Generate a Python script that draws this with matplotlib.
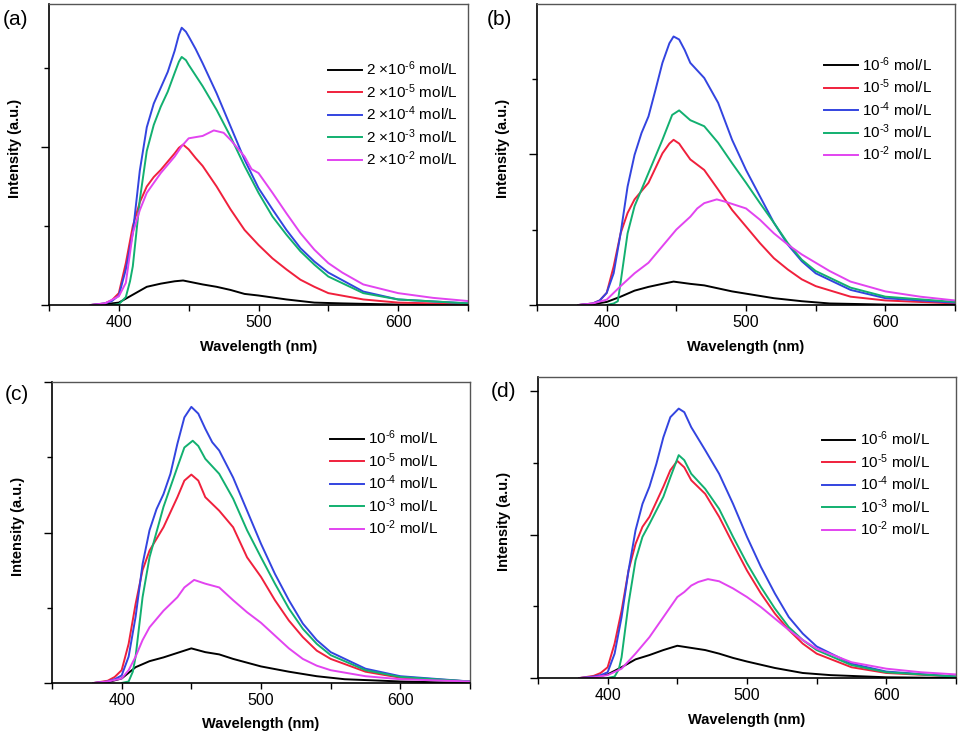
import matplotlib
matplotlib.use("Agg")
import matplotlib.pyplot as plt
from matplotlib.ticker import MultipleLocator, NullFormatter

plt.rcParams["font.family"] = ["Liberation Sans", "DejaVu Sans"]
plt.rcParams["mathtext.fontset"] = "custom"
plt.rcParams["mathtext.rm"] = "Liberation Sans"
plt.rcParams["mathtext.default"] = "regular"

COLORS = ["#000000", "#f0203c", "#3344e0", "#12b070", "#e244f0"]
EXPONENTS = ["6", "5", "4", "3", "2"]

# ---- panel (a): 2x10^n mol/L ----
a_black_x = [380, 390, 400, 410, 420, 430, 440, 446, 460, 470, 480, 490, 500, 520, 540, 560, 600, 650]
a_black_y = [0, 0.01, 0.03, 0.13, 0.23, 0.27, 0.30, 0.31, 0.26, 0.23, 0.19, 0.14, 0.12, 0.07, 0.03, 0.02, 0.005, 0]
a_red_x = [380, 390, 395, 400, 405, 410, 415, 420, 425, 430, 440, 443, 446, 450, 455, 460, 470, 480, 490, 500, 510, 520, 530, 540, 550, 575, 600, 650]
a_red_y = [0, 0.02, 0.06, 0.15, 0.53, 1.0, 1.30, 1.5, 1.62, 1.71, 1.92, 1.99, 2.03, 1.97, 1.86, 1.76, 1.50, 1.21, 0.95, 0.76, 0.59, 0.45, 0.32, 0.23, 0.15, 0.07, 0.03, 0.01]
a_blue_x = [380, 390, 395, 400, 405, 410, 415, 420, 425, 430, 435, 440, 443, 445, 448, 450, 455, 460, 470, 480, 490, 500, 510, 520, 530, 540, 550, 575, 600, 650]
a_blue_y = [0, 0.02, 0.05, 0.12, 0.45, 0.91, 1.7, 2.25, 2.55, 2.75, 2.95, 3.22, 3.42, 3.51, 3.46, 3.40, 3.24, 3.06, 2.68, 2.26, 1.84, 1.48, 1.21, 0.95, 0.72, 0.55, 0.41, 0.17, 0.07, 0.02]
a_green_x = [395, 400, 405, 408, 410, 415, 420, 425, 430, 435, 440, 443, 445, 448, 450, 460, 470, 480, 490, 500, 510, 520, 530, 540, 550, 575, 600, 650]
a_green_y = [0, 0.01, 0.1, 0.3, 0.49, 1.33, 1.95, 2.28, 2.51, 2.7, 2.94, 3.08, 3.14, 3.10, 3.04, 2.77, 2.47, 2.13, 1.76, 1.42, 1.12, 0.89, 0.68, 0.51, 0.36, 0.15, 0.07, 0.02]
a_mag_x = [380, 390, 400, 405, 410, 415, 420, 430, 440, 445, 450, 460, 468, 475, 480, 490, 495, 500, 510, 520, 530, 540, 550, 560, 575, 600, 625, 650]
a_mag_y = [0, 0.02, 0.11, 0.28, 0.91, 1.2, 1.42, 1.67, 1.88, 2.01, 2.11, 2.14, 2.21, 2.18, 2.09, 1.88, 1.72, 1.67, 1.42, 1.16, 0.91, 0.70, 0.53, 0.41, 0.26, 0.15, 0.09, 0.05]

# ---- panel (b) ----
b_black_x = [380, 390, 400, 410, 420, 430, 440, 448, 460, 470, 480, 490, 500, 520, 540, 560, 600, 650]
b_black_y = [0, 0.01, 0.04, 0.11, 0.19, 0.24, 0.28, 0.31, 0.28, 0.26, 0.22, 0.18, 0.15, 0.09, 0.05, 0.02, 0.005, 0]
b_red_x = [380, 390, 395, 400, 405, 410, 415, 420, 430, 440, 445, 448, 452, 455, 460, 470, 480, 490, 500, 510, 520, 530, 540, 550, 575, 600, 650]
b_red_y = [0, 0.02, 0.06, 0.16, 0.51, 0.95, 1.22, 1.40, 1.62, 2.01, 2.14, 2.19, 2.14, 2.06, 1.93, 1.79, 1.53, 1.26, 1.04, 0.82, 0.62, 0.47, 0.34, 0.25, 0.11, 0.06, 0.02]
b_blue_x = [380, 390, 395, 400, 405, 410, 415, 420, 425, 430, 435, 440, 445, 448, 452, 456, 460, 470, 480, 490, 500, 510, 520, 530, 540, 550, 575, 600, 650]
b_blue_y = [0, 0.02, 0.06, 0.16, 0.42, 0.95, 1.57, 1.99, 2.28, 2.50, 2.85, 3.21, 3.47, 3.56, 3.52, 3.38, 3.21, 3.01, 2.68, 2.19, 1.79, 1.44, 1.09, 0.80, 0.58, 0.42, 0.20, 0.09, 0.03]
b_green_x = [400, 405, 408, 410, 415, 420, 430, 440, 447, 452, 460, 470, 480, 490, 500, 510, 520, 530, 540, 550, 575, 600, 650]
b_green_y = [0, 0.02, 0.05, 0.3, 0.95, 1.31, 1.75, 2.19, 2.52, 2.58, 2.45, 2.37, 2.15, 1.88, 1.62, 1.35, 1.09, 0.82, 0.60, 0.45, 0.23, 0.11, 0.04]
b_mag_x = [380, 390, 400, 410, 420, 430, 440, 450, 460, 465, 470, 479, 485, 490, 500, 510, 520, 530, 540, 550, 560, 575, 600, 625, 650]
b_mag_y = [0, 0.02, 0.07, 0.25, 0.42, 0.56, 0.78, 1.0, 1.17, 1.28, 1.35, 1.40, 1.37, 1.34, 1.28, 1.13, 0.95, 0.80, 0.67, 0.56, 0.45, 0.31, 0.18, 0.11, 0.06]

# ---- panel (c) ----
c_black_x = [380, 390, 400, 410, 420, 430, 440, 450, 460, 470, 480, 490, 500, 520, 540, 560, 600, 650]
c_black_y = [0, 0.01, 0.06, 0.21, 0.29, 0.34, 0.40, 0.46, 0.41, 0.38, 0.32, 0.27, 0.22, 0.15, 0.09, 0.05, 0.02, 0]
c_red_x = [380, 390, 395, 400, 405, 410, 415, 420, 430, 440, 445, 450, 455, 460, 470, 480, 490, 500, 510, 520, 530, 540, 550, 575, 600, 650]
c_red_y = [0, 0.03, 0.08, 0.17, 0.52, 1.05, 1.50, 1.76, 2.07, 2.47, 2.69, 2.77, 2.69, 2.47, 2.29, 2.07, 1.67, 1.41, 1.10, 0.83, 0.61, 0.43, 0.32, 0.15, 0.07, 0.02]
c_blue_x = [380, 390, 395, 400, 405, 410, 415, 420, 425, 430, 435, 440, 445, 450, 455, 460, 465, 470, 480, 490, 500, 510, 520, 530, 540, 550, 575, 600, 650]
c_blue_y = [0, 0.02, 0.05, 0.10, 0.35, 0.88, 1.58, 2.03, 2.31, 2.51, 2.78, 3.18, 3.53, 3.67, 3.58, 3.38, 3.20, 3.09, 2.73, 2.29, 1.85, 1.45, 1.10, 0.79, 0.57, 0.41, 0.19, 0.09, 0.02]
c_green_x = [400, 405, 408, 410, 415, 420, 430, 440, 445, 451, 455, 460, 470, 480, 490, 500, 510, 520, 530, 540, 550, 575, 600, 650]
c_green_y = [0, 0.02, 0.15, 0.35, 1.14, 1.67, 2.34, 2.87, 3.13, 3.22, 3.15, 2.98, 2.78, 2.45, 2.03, 1.67, 1.32, 0.99, 0.72, 0.52, 0.37, 0.17, 0.08, 0.02]
c_mag_x = [380, 390, 400, 405, 410, 415, 420, 430, 440, 445, 452, 460, 470, 480, 490, 500, 510, 520, 530, 540, 550, 575, 600, 650]
c_mag_y = [0, 0.02, 0.06, 0.17, 0.35, 0.57, 0.74, 0.96, 1.14, 1.27, 1.37, 1.32, 1.27, 1.10, 0.94, 0.80, 0.63, 0.46, 0.32, 0.23, 0.17, 0.09, 0.05, 0.02]

# ---- panel (d) ----
d_black_x = [380, 390, 400, 410, 420, 430, 440, 450, 460, 470, 480, 490, 500, 520, 540, 560, 600, 650]
d_black_y = [0, 0.01, 0.05, 0.15, 0.26, 0.32, 0.39, 0.45, 0.42, 0.39, 0.34, 0.28, 0.23, 0.14, 0.07, 0.04, 0.01, 0]
d_red_x = [380, 390, 395, 400, 405, 410, 415, 420, 425, 430, 440, 445, 450, 455, 460, 470, 480, 490, 500, 510, 520, 530, 540, 550, 575, 600, 650]
d_red_y = [0, 0.03, 0.07, 0.15, 0.48, 0.94, 1.50, 1.87, 2.11, 2.25, 2.67, 2.90, 3.03, 2.94, 2.76, 2.57, 2.25, 1.87, 1.50, 1.18, 0.90, 0.67, 0.48, 0.34, 0.15, 0.07, 0.02]
d_blue_x = [380, 390, 395, 400, 405, 410, 415, 420, 425, 430, 435, 440, 445, 451, 455, 460, 470, 480, 490, 500, 510, 520, 530, 540, 550, 575, 600, 650]
d_blue_y = [0, 0.02, 0.04, 0.08, 0.34, 0.85, 1.50, 2.06, 2.43, 2.67, 2.99, 3.36, 3.64, 3.76, 3.71, 3.50, 3.18, 2.85, 2.43, 1.97, 1.55, 1.18, 0.85, 0.62, 0.44, 0.20, 0.09, 0.02]
d_green_x = [400, 405, 408, 410, 415, 420, 425, 430, 440, 445, 451, 455, 460, 470, 480, 490, 500, 510, 520, 530, 540, 550, 575, 600, 650]
d_green_y = [0, 0.02, 0.12, 0.29, 1.04, 1.64, 1.97, 2.15, 2.53, 2.80, 3.11, 3.04, 2.85, 2.64, 2.36, 1.97, 1.60, 1.27, 0.97, 0.71, 0.53, 0.39, 0.18, 0.08, 0.02]
d_mag_x = [380, 390, 400, 410, 420, 430, 440, 450, 455, 460, 465, 472, 480, 490, 500, 510, 520, 530, 540, 550, 575, 600, 625, 650]
d_mag_y = [0, 0.01, 0.04, 0.13, 0.34, 0.57, 0.85, 1.13, 1.20, 1.29, 1.34, 1.38, 1.35, 1.25, 1.13, 0.99, 0.83, 0.67, 0.53, 0.41, 0.22, 0.13, 0.08, 0.05]

PANELS = [
    {
        "tag": "(a)", "prefix": "2 \u00d710",
        "rect": [0.051, 0.5845, 0.436, 0.410], "ymax": 3.81,
        "legend_at": (0.666, 0.815), "tag_at": (0.003, 0.974), "xlab_y": -0.116,
        "series": [(a_black_x, a_black_y), (a_red_x, a_red_y), (a_blue_x, a_blue_y),
                   (a_green_x, a_green_y), (a_mag_x, a_mag_y)],
    },
    {
        "tag": "(b)", "prefix": "10",
        "rect": [0.5588, 0.5845, 0.435, 0.410], "ymax": 3.99,
        "legend_at": (0.687, 0.83), "tag_at": (0.507, 0.974), "xlab_y": -0.116,
        "series": [(b_black_x, b_black_y), (b_red_x, b_red_y), (b_blue_x, b_blue_y),
                   (b_green_x, b_green_y), (b_mag_x, b_mag_y)],
    },
    {
        "tag": "(c)", "prefix": "10",
        "rect": [0.0541, 0.0695, 0.435, 0.410], "ymax": 4.0,
        "legend_at": (0.665, 0.845), "tag_at": (0.005, 0.463), "xlab_y": -0.113,
        "series": [(c_black_x, c_black_y), (c_red_x, c_red_y), (c_blue_x, c_blue_y),
                   (c_green_x, c_green_y), (c_mag_x, c_mag_y)],
    },
    {
        "tag": "(d)", "prefix": "10",
        "rect": [0.5598, 0.0763, 0.435, 0.410], "ymax": 4.2,
        "legend_at": (0.679, 0.825), "tag_at": (0.511, 0.466), "xlab_y": -0.116,
        "series": [(d_black_x, d_black_y), (d_red_x, d_red_y), (d_blue_x, d_blue_y),
                   (d_green_x, d_green_y), (d_mag_x, d_mag_y)],
    },
]


def draw_panel(fig, p):
    ax = fig.add_axes(p["rect"])
    for (x, y), color, ex in zip(p["series"], COLORS, EXPONENTS):
        ax.plot(x, y, color=color, linewidth=1.4,
                label=p["prefix"] + r"$^{\text{-}" + ex + "}$ mol/L")

    ax.set_xlim(350, 650)
    ax.set_ylim(0, p["ymax"])

    ax.xaxis.set_major_locator(MultipleLocator(100))
    ax.xaxis.set_minor_locator(MultipleLocator(50))
    ax.yaxis.set_major_locator(MultipleLocator(2))
    ax.yaxis.set_minor_locator(MultipleLocator(1))
    ax.yaxis.set_major_formatter(NullFormatter())

    ax.tick_params(axis="both", which="both", direction="out",
                   top=False, right=False, width=1.0)
    ax.tick_params(axis="x", which="both", length=4, labelsize=11.5, pad=3)
    ax.tick_params(axis="y", which="major", length=6)
    ax.tick_params(axis="y", which="minor", length=3.5)

    for side in ["left", "bottom"]:
        ax.spines[side].set_linewidth(1.2)
        ax.spines[side].set_color("black")
    for side in ["top", "right"]:
        ax.spines[side].set_linewidth(1.0)
        ax.spines[side].set_color("#555555")

    ax.set_xlabel("Wavelength (nm)", fontsize=10.5, fontweight="bold")
    ax.set_ylabel("Intensity (a.u.)", fontsize=10.5, fontweight="bold")
    ax.xaxis.set_label_coords(0.5, p["xlab_y"])
    ax.yaxis.set_label_coords(-0.064, 0.52)

    ax.legend(loc="upper left", bbox_to_anchor=p["legend_at"], frameon=False,
              fontsize=11, borderpad=0, borderaxespad=0,
              handlelength=2.2, handletextpad=0.3, labelspacing=0.25)

    fig.text(p["tag_at"][0], p["tag_at"][1], p["tag"], fontsize=15,
             ha="left", va="center")


def main():
    fig = plt.figure(figsize=(9.61, 7.34), dpi=100)
    for p in PANELS:
        draw_panel(fig, p)
    fig.savefig("out.png", dpi=100)


if __name__ == "__main__":
    main()
